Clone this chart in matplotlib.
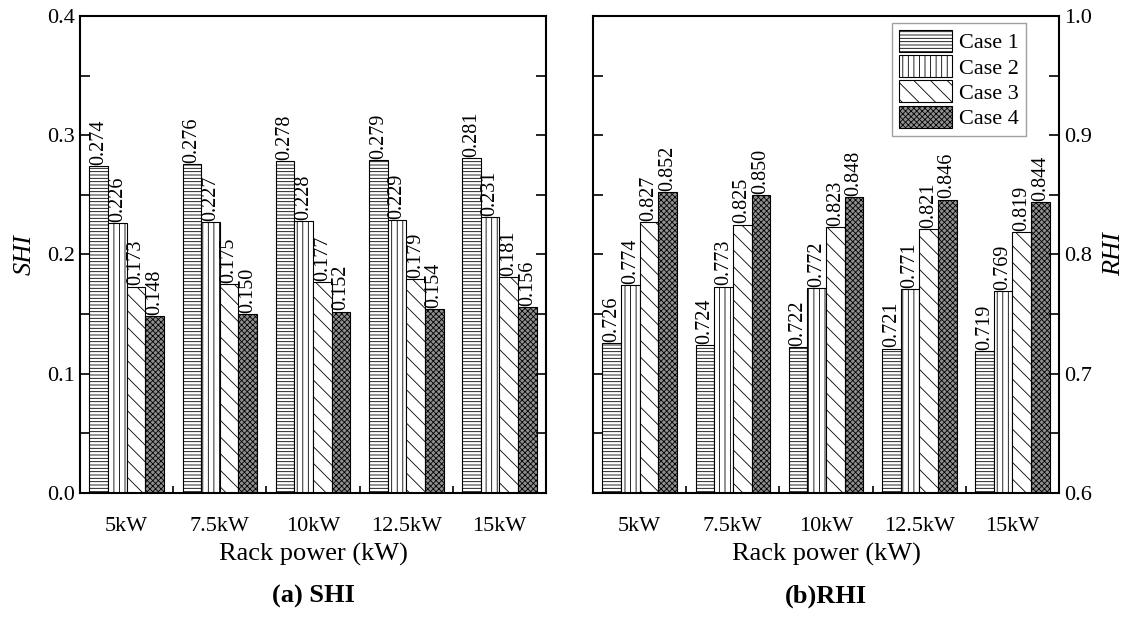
import numpy as np
import matplotlib
matplotlib.use("Agg")
import matplotlib.pyplot as plt
from matplotlib.ticker import MultipleLocator

plt.rcParams['font.family'] = ['Liberation Serif', 'DejaVu Serif']
plt.rcParams['hatch.linewidth'] = 0.6

# data
powers = ["5kW", "7.5kW", "10kW", "12.5kW", "15kW"]
cases = ["Case 1", "Case 2", "Case 3", "Case 4"]
shi = [
    [0.274, 0.276, 0.278, 0.279, 0.281],
    [0.226, 0.227, 0.228, 0.229, 0.231],
    [0.173, 0.175, 0.177, 0.179, 0.181],
    [0.148, 0.150, 0.152, 0.154, 0.156],
]
rhi = [
    [0.726, 0.724, 0.722, 0.721, 0.719],
    [0.774, 0.773, 0.772, 0.771, 0.769],
    [0.827, 0.825, 0.823, 0.821, 0.819],
    [0.852, 0.850, 0.848, 0.846, 0.844],
]

hatches = ['-----', '|||', '\\\\', 'xxxxxx']
faces = ['white', 'white', 'white', '#8f8f8f']

fig = plt.figure(figsize=(11.32, 6.18), dpi=100)
ax1 = fig.add_axes([0.0707, 0.2023, 0.4117, 0.772])
ax2 = fig.add_axes([0.5239, 0.2023, 0.4117, 0.772])

x = np.arange(len(powers))
w = 0.2


def draw(ax, data, base, ylim, major, ylabel, title):
    for i, vals in enumerate(data):
        pos = x + (i - 1.5) * w
        heights = np.array(vals) - base
        ax.bar(pos, heights, w, bottom=base, facecolor=faces[i], edgecolor='black',
               hatch=hatches[i], linewidth=0.8, label=cases[i])
        for p, v in zip(pos, vals):
            ax.text(p, v + 0.001, f"{v:.3f}", rotation=90,
                    ha='center', va='bottom', fontsize=14.5)
    ax.set_xlim(-0.5, 4.5)
    ax.set_ylim(*ylim)
    ax.set_xticks(x)
    ax.set_xticklabels(powers, fontsize=16)
    ax.set_xticks(x + 0.5, minor=True)
    ax.tick_params(axis='x', which='major', length=0, pad=17)
    ax.tick_params(axis='x', which='minor', direction='in', length=5, width=1.2,
                   bottom=True, top=False)
    ax.yaxis.set_major_locator(MultipleLocator(major))
    ax.yaxis.set_minor_locator(MultipleLocator(major / 2))
    ax.yaxis.set_major_formatter(plt.FuncFormatter(lambda v, p: f"{v:.1f}"))
    ax.tick_params(axis='y', which='both', direction='in', length=7, width=1.2,
                   left=True, right=True, labelsize=16)
    for s in ax.spines.values():
        s.set_linewidth(1.5)
    ax.set_xlabel("Rack power (kW)", fontsize=19, labelpad=5)
    ax.text(0.5, -0.193, title, transform=ax.transAxes, ha='center', va='top',
            fontsize=19, fontweight='bold')
    ax.set_ylabel(ylabel, fontsize=19, style='italic', labelpad=8)


draw(ax1, shi, 0.0, (0.0, 0.4), 0.1, "SHI", "(a) SHI")

draw(ax2, rhi, 0.6, (0.6, 1.0), 0.1, "RHI", "(b)RHI")
ax2.yaxis.set_label_position('right')
ax2.tick_params(axis='y', which='both', labelleft=False, labelright=True)

leg = ax2.legend(loc='upper right', bbox_to_anchor=(0.928, 0.985), fontsize=16,
                 handlelength=2.4, handleheight=1.15, labelspacing=0.08,
                 handletextpad=0.3, borderpad=0.3, fancybox=False, borderaxespad=0)
leg.get_frame().set_edgecolor('#888888')
leg.get_frame().set_linewidth(1.0)

fig.savefig("out.png", dpi=100)
